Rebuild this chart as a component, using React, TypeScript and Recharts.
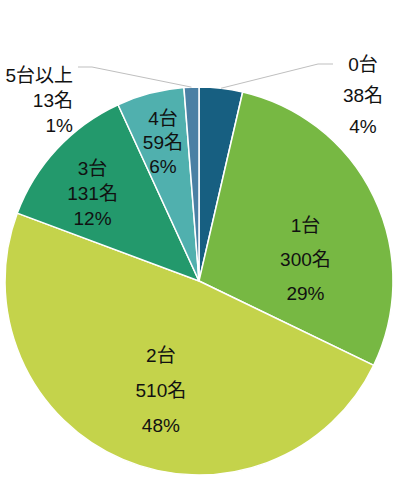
import { Cell, Pie, PieChart } from 'recharts'

// 所有台数ごとの人数
const categories = ['0台', '1台', '2台', '3台', '4台', '5台以上']
const counts = [38, 300, 510, 131, 59, 13]
const percentLabels = ['4%', '29%', '48%', '12%', '6%', '1%']
const colors = ['#175f81', '#77b843', '#c4d34b', '#23996c', '#50b0ae', '#4a80a4']

const data = categories.map((name, i) => ({ name, value: counts[i] }))

const RAD = Math.PI / 180
const FONT = '"Liberation Sans", Arial, "Noto Sans CJK JP", sans-serif'

// label placement per slice: inside = polar around the centre, outside = leader + text block
type InsideLayout = { kind: 'inside'; r: number; shift: number; gap: number }
type OutsideLayout = {
  kind: 'outside'
  elbow: [number, number]
  end: [number, number]
  textX: number
  anchor: 'start' | 'middle' | 'end'
  midY: number
  gap: number
}
const labelLayout: (InsideLayout | OutsideLayout)[] = [
  { kind: 'outside', elbow: [119, -217], end: [134, -217], textX: 164, anchor: 'middle', midY: -186, gap: 31 },
  { kind: 'inside', r: 0.56, shift: -14, gap: 34 },
  { kind: 'inside', r: 0.6, shift: 4, gap: 35 },
  { kind: 'inside', r: 0.71, shift: 3.5, gap: 25 },
  { kind: 'inside', r: 0.74, shift: 0, gap: 24 },
  { kind: 'outside', elbow: [-107, -214], end: [-121, -214], textX: -126, anchor: 'end', midY: -181, gap: 25 },
]

function renderLabel(props: any) {
  const { cx, cy, midAngle, outerRadius, index } = props
  const lines = [categories[index], `${counts[index]}名`, percentLabels[index]]
  const lay = labelLayout[index]
  const textStyle = { fontFamily: FONT, fontSize: 19, fill: '#111' }

  if (lay.kind === 'inside') {
    const a = (midAngle + lay.shift) * RAD
    const x = cx + outerRadius * lay.r * Math.cos(a)
    const y = cy - outerRadius * lay.r * Math.sin(a)
    return (
      <g key={`lbl-${index}`}>
        {lines.map((t, j) => (
          <text
            key={j}
            x={x}
            y={y + (j - 1) * lay.gap}
            textAnchor="middle"
            dominantBaseline="central"
            style={textStyle}
          >
            {t}
          </text>
        ))}
      </g>
    )
  }

  const a = midAngle * RAD
  const sx = cx + outerRadius * Math.cos(a)
  const sy = cy - outerRadius * Math.sin(a)
  const ex = cx + lay.elbow[0]
  const ey = cy + lay.elbow[1]
  const fx = cx + lay.end[0]
  const fy = cy + lay.end[1]
  return (
    <g key={`lbl-${index}`}>
      <polyline
        points={`${sx},${sy} ${ex},${ey} ${fx},${fy}`}
        fill="none"
        stroke="#bfbfbf"
        strokeWidth={1}
      />
      {lines.map((t, j) => (
        <text
          key={j}
          x={cx + lay.textX}
          y={cy + lay.midY + (j - 1) * lay.gap}
          textAnchor={lay.anchor}
          dominantBaseline="central"
          style={textStyle}
        >
          {t}
        </text>
      ))}
    </g>
  )
}

export default function App() {
  return (
    <div style={{ position: 'absolute', left: 0, top: 0, width: 398, height: 490, background: '#fff' }}>
      <PieChart width={398} height={490} margin={{ top: 0, right: 0, bottom: 0, left: 0 }}>
        <Pie
          data={data}
          dataKey="value"
          nameKey="name"
          cx={199}
          cy={281}
          outerRadius={194}
          startAngle={90}
          endAngle={-270}
          stroke="#ffffff"
          strokeWidth={1.5}
          label={renderLabel}
          labelLine={false}
          isAnimationActive={false}
        >
          {data.map((d, i) => (
            <Cell key={d.name} fill={colors[i]} />
          ))}
        </Pie>
      </PieChart>
    </div>
  )
}
